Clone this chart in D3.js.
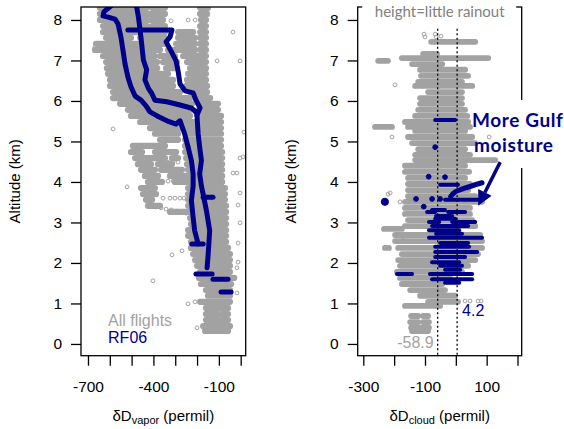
<!DOCTYPE html>
<html>
<head>
<meta charset="utf-8">
<script src="https://cdn.jsdelivr.net/npm/d3@7"></script>
<style>
  body { margin: 0; background: #fff; }
  text { font-family: "Liberation Sans", Arial, sans-serif; }
</style>
</head>
<body>
<svg id="chart" width="564" height="429"></svg>
<script>
// ---- axis ticks ----
var altTicks = [0, 1, 2, 3, 4, 5, 6, 7, 8];
var vaporTicks = [-700, -600, -500, -400, -300, -200, -100, 0];
var vaporTickLabels = [-700, -400, -100];
var cloudTicks = [-300, -200, -100, 0, 100, 200];
var cloudTickLabels = [-300, -100, 100];

// ---- left panel: dD vapor, all flights (dense legs read as [alt, dD from, dD to]) ----
var allFlightsVapor = [
  [8.30, -645, -429], [8.30, -406, -347], [8.30, -186, -150],
  [8.15, -645, -429], [8.15, -416, -347], [8.15, -186, -154],
  [8.00, -645, -425], [8.00, -406, -356], [8.00, -182, -159],
  [7.85, -631, -429], [7.85, -406, -347], [7.85, -186, -159],
  [7.70, -631, -347], [7.70, -287, -218], [7.70, -186, -159],
  [7.56, -617, -503], [7.56, -461, -347], [7.56, -287, -209], [7.56, -186, -159],
  [7.41, -663, -347], [7.41, -296, -209], [7.41, -186, -159],
  [7.26, -668, -370], [7.26, -333, -209], [7.26, -186, -159],
  [7.11, -631, -393], [7.11, -370, -301], [7.11, -264, -159],
  [6.96, -617, -383], [6.96, -356, -292], [6.96, -246, -159],
  [6.81, -613, -383], [6.81, -342, -292], [6.81, -232, -159],
  [6.67, -608, -333], [6.67, -241, -159],
  [6.52, -599, -310], [6.52, -246, -159],
  [6.37, -599, -310], [6.37, -250, -154],
  [6.22, -585, -278], [6.22, -232, -154],
  [6.07, -585, -232], [6.07, -209, -140],
  [5.93, -553, -223], [5.93, -195, -104],
  [5.78, -517, -232], [5.78, -195, -104],
  [5.63, -503, -232], [5.63, -195, -90],
  [5.48, -461, -90],
  [5.33, -416, -90],
  [5.19, -393, -287], [5.19, -250, -90],
  [5.04, -370, -287], [5.04, -255, -90],
  [4.89, -494, -347], [4.89, -255, -90],
  [4.74, -503, -452], [4.74, -393, -296], [4.74, -255, -85],
  [4.59, -484, -347], [4.59, -315, -287], [4.59, -250, -85],
  [4.44, -471, -411], [4.44, -379, -315], [4.44, -246, -85],
  [4.30, -457, -393], [4.30, -365, -269], [4.30, -241, -85],
  [4.15, -439, -379], [4.15, -324, -85],
  [4.00, -425, -361], [4.00, -301, -85],
  [3.85, -457, -393], [3.85, -241, -72],
  [3.70, -448, -388], [3.70, -241, -72],
  [3.56, -434, -406], [3.56, -241, -72],
  [3.41, -425, -370], [3.41, -241, -67],
  [3.26, -324, -67],
  [3.11, -232, -67],
  [2.96, -228, -67],
  [2.81, -241, -67],
  [2.67, -241, -67],
  [2.52, -228, -67],
  [2.37, -228, -58],
  [2.22, -218, -49],
  [2.07, -209, -49],
  [1.93, -200, -49],
  [1.78, -186, -49],
  [1.63, -191, -30],
  [1.48, -182, -44],
  [1.33, -159, -49],
  [1.19, -150, -49],
  [1.04, -186, -49],
  [0.89, -159, -58],
  [0.74, -159, -104], [0.74, -90, -58],
  [0.59, -159, -104], [0.59, -90, -58],
  [0.44, -172, -49],
  [0.32, -163, -58]
];
// scattered single samples [dD, alt]
var allFlightsVaporPts = [
  [-416, 7.98], [-370, 7.98], [-319, 7.98], [-241, 8.00], [-209, 8.00],
  [-35, 7.70], [-108, 6.99], [-3, 6.99], [-668, 7.33], [-585, 5.31], [15, 5.23],
  [-3, 4.59], [11, 4.62], [-35, 4.22], [-17, 4.22], [-521, 3.88], [-3, 3.73],
  [-12, 3.43], [-3, 2.99], [-12, 2.49], [-12, 2.02], [-17, 1.88], [-35, 1.63],
  [-17, 1.26], [-402, 1.56], [-315, 2.20], [-269, 2.30], [-241, 0.99], [-209, 1.04],
  [-200, 0.40],
  [-416, 3.41], [-388, 3.38], [-365, 3.36], [-342, 3.33], [-319, 3.31], [-296, 3.28],
  [-273, 3.26], [-250, 3.23],
  [-356, 3.60], [-324, 3.60], [-301, 3.60], [-278, 3.60], [-260, 3.60],
  [-333, 4.02], [-310, 4.02], [-287, 4.02], [-264, 4.02],
  [-333, 4.49], [-310, 4.49], [-287, 4.49]
];

// ---- left panel: RF06 profiles [dD, alt] ----
var rf06VaporA = [
  [-594, 8.35], [-627, 8.20], [-631, 8.10], [-608, 8.07], [-576, 8.02], [-562, 7.90],
  [-549, 7.58], [-539, 7.23], [-530, 6.91], [-517, 6.59], [-503, 6.35], [-484, 6.12],
  [-457, 6.02], [-434, 5.88], [-416, 5.73], [-383, 5.63], [-338, 5.51], [-296, 5.43],
  [-278, 5.51], [-257, 5.19], [-241, 4.86], [-226, 4.53], [-218, 4.20], [-218, 3.90],
  [-226, 3.54], [-218, 3.13], [-211, 2.80], [-195, 2.47]
];
var rf06VaporB = [
  [-477, 8.33], [-469, 8.08], [-461, 7.75], [-454, 7.42], [-446, 7.01], [-431, 6.77],
  [-439, 6.52], [-423, 6.31], [-408, 6.19], [-393, 6.02], [-339, 5.98], [-278, 5.90],
  [-224, 5.82], [-201, 5.70], [-195, 5.19], [-188, 4.86], [-180, 4.53], [-188, 4.20],
  [-180, 3.90], [-172, 3.70], [-157, 3.29], [-142, 2.80], [-150, 2.14], [-154, 1.88]
];
var rf06VaporC = [
  [-517, 7.75], [-315, 7.75], [-324, 7.58], [-342, 7.46], [-319, 7.23], [-296, 6.99],
  [-287, 6.74], [-278, 6.42], [-255, 6.25], [-218, 6.20], [-205, 6.02], [-186, 5.83],
  [-200, 5.65]
];
var rf06VaporLegs = [
  [3.62, -172, -127], [2.47, -224, -172], [1.73, -205, -131], [1.60, -127, -58], [1.28, -90, -44]
];

// ---- right panel: dD cloud, all flights [alt, dD from, dD to] ----
var allFlightsCloud = [
  [7.46, -80, 63], [7.16, -106, -61], [7.06, -175, 105], [6.99, -252, -220],
  [6.91, -142, -44], [6.77, -116, 30], [6.62, -113, 40], [6.47, -122, 20],
  [6.37, -132, 53], [6.22, -90, 20], [6.07, -116, 20], [5.93, -116, 20],
  [5.78, -122, 30], [5.63, -132, 37], [5.48, -165, 40], [5.36, -262, -207],
  [5.36, -155, 46], [5.26, -132, 30], [5.11, -155, 53], [4.96, -142, 63],
  [4.81, -122, 30], [4.67, -132, 46], [4.54, -132, 128], [4.40, -165, 30],
  [4.25, -165, 43], [4.10, -155, 30], [3.95, -155, 46], [3.80, -155, 40],
  [3.65, -155, 63], [3.51, -165, 85], [3.36, -165, 46], [3.21, -165, 46],
  [3.06, -155, 53], [2.91, -165, 63], [2.84, -233, -175], [2.69, -197, 79],
  [2.54, -197, 85], [2.37, -230, -217], [2.37, -187, 85], [2.22, -175, 72],
  [2.07, -187, 63], [1.93, -181, 40], [1.78, -191, 20], [1.63, -181, -19],
  [1.48, -175, -44], [1.33, -148, -35], [1.19, -116, -2], [1.04, -90, 7],
  [0.94, -165, -51], [0.69, -145, -122], [0.69, -106, -90], [0.54, -148, -122],
  [0.54, -106, -87], [0.40, -145, -87], [0.32, -142, -90]
];
var allFlightsCloudPts = [
  [-103, 7.65], [-100, 7.58], [-67, 7.65], [-64, 7.58], [-48, 7.60],
  [-207, 5.11], [108, 5.11], [-197, 6.40], [-213, 3.73], [-181, 3.51], [-220, 3.70],
  [-191, 2.67], [-171, 2.64], [30, 1.06], [46, 1.06], [72, 1.06], [82, 1.06]
];

// ---- right panel: RF06 [alt, dD from, dD to] and single samples [dD, alt] ----
var rf06Cloud = [
  [5.53, -67, -2], [3.93, -51, 7], [3.56, -35, 72], [3.31, -77, -35],
  [3.26, -93, -67], [3.26, -25, 30], [3.16, -64, -12], [3.09, -67, -2],
  [3.01, -87, -54], [3.01, -12, 63], [2.91, -77, 40], [2.81, -87, 11],
  [2.72, -64, 20], [2.62, -87, 85], [2.49, -51, 40], [2.40, -67, 43],
  [2.27, -67, 69], [2.15, -67, 30], [2.02, -77, 11], [1.93, -51, 20],
  [1.83, -35, 14], [1.73, -191, -142], [1.73, -84, 53], [1.60, -77, 53],
  [1.51, -35, 11]
];
var rf06CloudPts = [
  [-230, 3.51], [-67, 4.86], [-88, 4.13], [-35, 4.12], [-104, 3.39],
  [-129, 3.58], [-77, 3.58], [-51, 3.58]
];
var cloudMeans = [-58.9, 4.2];   // all flights, RF06

// ---- layout ----
var gray = '#a2a2a2', navy = '#00008b';
var svg = d3.select('#chart');
var yTop = 7, yBot = 355.7;
var y = d3.scaleLinear().domain([-0.29, 8.32]).range([yBot, yTop]);
var xV = d3.scaleLinear().domain([-732, 23]).range([81, 245.7]);
var xC = d3.scaleLinear().domain([-318.2, 213.6]).range([357.7, 521.7]);

function drawPanel(id, x, ticks, labels, sub, yTitleX) {
  var r = x.range();
  svg.append('clipPath').attr('id', id).append('rect')
    .attr('x', r[0]).attr('y', yTop).attr('width', r[1] - r[0]).attr('height', yBot - yTop);
  var plot = svg.append('g').attr('clip-path', 'url(#' + id + ')');

  var xa = svg.append('g').attr('transform', 'translate(0,' + yBot + ')')
    .call(d3.axisBottom(x).tickValues(ticks).tickSize(10).tickPadding(15)
      .tickFormat(function (d) { return labels.indexOf(d) >= 0 ? String(d) : ''; }));
  var ya = svg.append('g').attr('transform', 'translate(' + r[0] + ',0)')
    .call(d3.axisLeft(y).tickValues(altTicks).tickSize(10).tickPadding(9));
  [xa, ya].forEach(function (a) {
    a.select('.domain').remove();
    a.attr('font-size', 15.5);
    a.selectAll('line').attr('stroke-width', 1.3);
  });

  svg.append('rect')
    .attr('x', r[0]).attr('y', yTop).attr('width', r[1] - r[0]).attr('height', yBot - yTop)
    .attr('fill', 'none').attr('stroke', '#000').attr('stroke-width', 1.3);

  svg.append('text').attr('transform', 'translate(' + yTitleX + ',' + ((yTop + yBot) / 2) + ') rotate(-90)')
    .attr('text-anchor', 'middle').attr('font-size', 15).text('Altitude (km)');

  var t = svg.append('text').attr('x', (r[0] + r[1]) / 2).attr('y', 421)
    .attr('text-anchor', 'middle').attr('font-size', 15);
  t.append('tspan').text('\u03B4D');
  t.append('tspan').attr('font-size', 11).attr('dy', 3).text(sub);
  t.append('tspan').attr('dy', -3).text(' (permil)');
  return plot;
}

function legs(g, x, data, color, width) {
  g.append('g').selectAll('line').data(data).join('line')
    .attr('x1', function (d) { return x(d[1]); })
    .attr('x2', function (d) { return x(d[2]); })
    .attr('y1', function (d) { return y(d[0]); })
    .attr('y2', function (d) { return y(d[0]); })
    .attr('stroke', color).attr('stroke-width', width).attr('stroke-linecap', 'round');
}
function points(g, x, data, r, fill, stroke) {
  return g.append('g').selectAll('circle').data(data).join('circle')
    .attr('cx', function (d) { return x(d[0]); })
    .attr('cy', function (d) { return y(d[1]); })
    .attr('r', r).attr('fill', fill).attr('stroke', stroke).attr('stroke-width', 1);
}
var line = function (x) {
  return d3.line().x(function (d) { return x(d[0]); }).y(function (d) { return y(d[1]); });
};

// left panel
var pV = drawPanel('clipV', xV, vaporTicks, vaporTickLabels, 'vapor', 20);
legs(pV, xV, allFlightsVapor, gray, 6.2);
points(pV, xV, allFlightsVaporPts, 1.9, 'none', gray);
[rf06VaporA, rf06VaporB, rf06VaporC].forEach(function (tr) {
  pV.append('path').attr('d', line(xV)(tr)).attr('fill', 'none')
    .attr('stroke', navy).attr('stroke-width', 5)
    .attr('stroke-linejoin', 'round').attr('stroke-linecap', 'round');
});
legs(pV, xV, rf06VaporLegs, navy, 5);

svg.append('text').attr('x', xV(-608)).attr('y', y(0.44)).attr('font-size', 16)
  .attr('fill', gray).text('All flights');
svg.append('text').attr('x', xV(-608)).attr('y', y(0.02)).attr('font-size', 16)
  .attr('fill', navy).text('RF06');

// right panel
var pC = drawPanel('clipC', xC, cloudTicks, cloudTickLabels, 'cloud', 296);
legs(pC, xC, allFlightsCloud, gray, 5.8);
points(pC, xC, allFlightsCloudPts, 1.9, 'none', gray);
legs(pC, xC, rf06Cloud, navy, 4);
points(pC, xC, rf06CloudPts, 2.4, navy, navy)
  .filter(function (d, i) { return i === 0; }).attr('r', 3.6);

// mean lines
pC.append('g').selectAll('line').data(cloudMeans).join('line')
  .attr('x1', function (d) { return xC(d); }).attr('x2', function (d) { return xC(d); })
  .attr('y1', y(7.78)).attr('y2', yBot)
  .attr('stroke', '#000').attr('stroke-width', 1.3).attr('stroke-dasharray', '2,2.5');
svg.append('text').attr('x', xC(cloudMeans[0]) - 4).attr('y', y(-0.1))
  .attr('text-anchor', 'end').attr('font-size', 16).attr('fill', gray).text(String(cloudMeans[0]));
svg.append('text').attr('x', xC(cloudMeans[1]) + 5).attr('y', y(0.69))
  .attr('font-size', 16).attr('fill', navy).text(String(cloudMeans[1]));

// top label with white background over the frame
svg.append('rect').attr('x', xC.range()[0] + 4.5).attr('y', 0)
  .attr('width', xC.range()[1] - xC.range()[0] - 10).attr('height', 12).attr('fill', '#fff');
svg.append('text').attr('x', (xC.range()[0] + xC.range()[1]) / 2).attr('y', 17)
  .attr('text-anchor', 'middle').attr('font-size', 15).attr('fill', '#808080')
  .style('font-family', 'Lato, "Open Sans", sans-serif').text('height=little rainout');

// annotation: More Gulf moisture
svg.append('rect').attr('x', 500).attr('y', 100).attr('width', 64).attr('height', 68).attr('fill', '#fff');
var note = svg.append('text').attr('x', 472).attr('y', 127).attr('font-size', 19)
  .attr('font-weight', 'bold').attr('fill', navy).attr('letter-spacing', 0.6)
  .style('font-family', 'Lato, "Open Sans", sans-serif');
note.append('tspan').attr('x', 472).text('More Gulf');
note.append('tspan').attr('x', 474).attr('y', 152).text('moisture');

var curve = [[-17, 3.64], [-1, 3.76], [26, 3.84], [85, 3.98]];
svg.append('path').attr('d', line(xC).curve(d3.curveCatmullRom)(curve)).attr('fill', 'none')
  .attr('stroke', navy).attr('stroke-width', 5).attr('stroke-linecap', 'round');

var a0 = [xC(143.8), y(4.49)], a1 = [xC(72.4), y(3.41)];
var ang = Math.atan2(a1[1] - a0[1], a1[0] - a0[0]);
var hl = 15, hw = 7.5;
var base = [a1[0] - hl * Math.cos(ang), a1[1] - hl * Math.sin(ang)];
svg.append('line').attr('x1', a0[0]).attr('y1', a0[1]).attr('x2', base[0]).attr('y2', base[1])
  .attr('stroke', navy).attr('stroke-width', 3.5);
svg.append('path').attr('fill', navy).attr('d',
  'M' + a1[0] + ',' + a1[1] +
  'L' + (base[0] + hw * Math.sin(ang)) + ',' + (base[1] - hw * Math.cos(ang)) +
  'L' + (base[0] - hw * Math.sin(ang)) + ',' + (base[1] + hw * Math.cos(ang)) + 'Z');
</script>
</body>
</html>
